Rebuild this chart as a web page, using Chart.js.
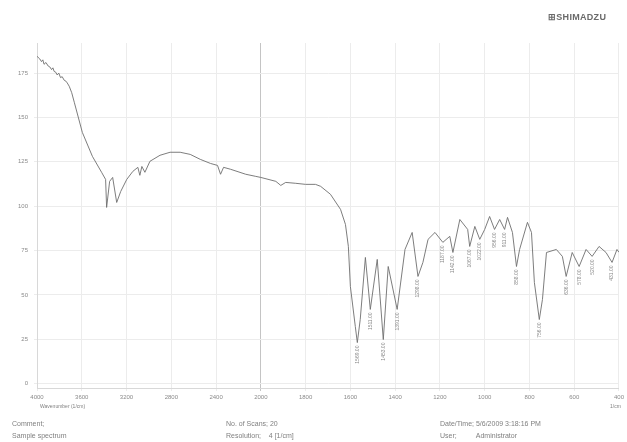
<!DOCTYPE html>
<html>
<head>
<meta charset="utf-8">
<script src="https://cdn.jsdelivr.net/npm/chart.js@4/dist/chart.umd.min.js"></script>
<style>
  body { margin: 0; background: #fff; }
  #wrap { position: relative; width: 627px; height: 442px; font-family: "Liberation Sans", Arial, sans-serif; color: #808080; }
  #wrap canvas { position: absolute; left: 0; top: 0; }
  .note { position: absolute; font-size: 7px; white-space: pre; }
  #logo { position: absolute; left: 548px; top: 12px; font-size: 9px; font-weight: bold; color: #6a6a6a; letter-spacing: 0.3px; }
</style>
</head>
<body>
<div id="wrap">
  <canvas id="chart-area" width="627" height="442"></canvas>
  <div id="logo">&#8862;SHIMADZU</div>
  <div class="note" style="left:40px; top:403px; font-size:5px;">Wavenumber (1/cm)</div>
  <div class="note" style="left:610px; top:403px; font-size:5px;">1/cm</div>
  <div class="note" style="left:12px; top:420px;">Comment;</div>
  <div class="note" style="left:12px; top:432px;">Sample spectrum</div>
  <div class="note" style="left:226px; top:420px;">No. of Scans; 20</div>
  <div class="note" style="left:226px; top:432px;">Resolution;    4 [1/cm]</div>
  <div class="note" style="left:440px; top:420px;">Date/Time; 5/6/2009 3:18:16 PM</div>
  <div class="note" style="left:440px; top:432px;">User;          Administrator</div>
</div>
<script>
'use strict';

// spectrum (1/cm, %T)
var wavenumbers = [
    4000, 3975, 3960, 3948, 3937, 3920, 3900, 3885, 3870, 3858,
    3847, 3832, 3820, 3805, 3790, 3775, 3757, 3742, 3730, 3712,
    3690, 3667, 3595, 3505, 3423, 3387, 3378, 3351, 3324, 3288,
    3252, 3198, 3144, 3099, 3081, 3063, 3036, 2991, 2901, 2811,
    2721, 2631, 2541, 2450, 2387, 2360, 2333, 2270, 2135, 2045,
    2000, 1933, 1911, 1889, 1844, 1800, 1756, 1733, 1689, 1644,
    1622, 1609, 1600, 1578, 1569, 1556, 1533, 1511, 1480, 1453,
    1431, 1391, 1356, 1324, 1298, 1276, 1253, 1222, 1187, 1156,
    1142, 1111, 1076, 1067, 1044, 1022, 1000, 978, 956, 933,
    911, 898, 876, 858, 844, 809, 791, 778, 756, 742,
    724, 680, 653, 636, 609, 578, 547, 520, 489, 458,
    431, 409, 400
];
var transmittance = [
    184.5, 183, 181.5, 182.5, 180, 181, 179, 178.5, 177, 178,
    176, 175.5, 174, 175, 172.5, 173, 171, 170.5, 169.5, 167.6,
    164, 158.6, 141.6, 128.1, 119.1, 115.1, 99.3, 114, 116.2, 102.1,
    108.3, 115.1, 119.6, 121.9, 117.4, 122.4, 119.1, 125.3, 128.7, 130.4,
    130.4, 129.2, 126.4, 124.1, 123, 118, 121.9, 120.8, 118, 116.8,
    116.2, 114, 111.7, 113.4, 112.9, 112.3, 112.3, 111.2, 106.7, 98.2,
    89.7, 77.3, 54.7, 32.2, 23.1, 36.1, 71.1, 41.8, 70, 24.8,
    66, 41.8, 75.6, 85.2, 60.4, 68.3, 81.3, 85.2, 79.6, 83,
    73.9, 92.5, 86.9, 77.3, 88.6, 81.3, 86.9, 94.2, 86.9, 92.5,
    86.9, 93.7, 85.2, 66, 75.6, 90.9, 85.2, 57, 36.1, 47.4,
    73.9, 75.6, 71.7, 60.4, 73.9, 66, 75.6, 71.7, 77.3, 73.9,
    68.3, 75.6, 74
];
var xTickLabels = [4000, 3600, 3200, 2800, 2400, 2000, 1800, 1600, 1400, 1200, 1000, 800, 600, 400];
var yTickLabels = [0, 25, 50, 75, 100, 125, 150, 175];

// axis is expanded x2 below 2000 1/cm, like the printout
var warp = function(wn) {
    return wn >= 2000 ? 4000 - wn : 2000 + (2000 - wn) * 2;
};
var unwarp = function(u) {
    return u <= 2000 ? 4000 - u : 2000 - (u - 2000) / 2;
};

var points = wavenumbers.map(function(wn, i) {
    return { x: warp(wn), y: transmittance[i] };
});

var peakLabels = {
    id: 'peakLabels',
    afterDatasetsDraw: function(chart) {
        var ctx = chart.ctx;
        var xs = chart.scales.x, ys = chart.scales.y;
        ctx.save();
        ctx.fillStyle = '#8a8a8a';
        ctx.font = '5px "Liberation Sans", Arial, sans-serif';
        ctx.textBaseline = 'middle';
        ctx.textAlign = 'right';
        for (var i = 1; i < transmittance.length - 1; i++) {
            if (wavenumbers[i] > 1700) continue;
            if (transmittance[i] < transmittance[i - 1] && transmittance[i] < transmittance[i + 1]) {
                var px = xs.getPixelForValue(warp(wavenumbers[i]));
                var py = ys.getPixelForValue(transmittance[i]);
                ctx.save();
                ctx.translate(px, py + 3);
                ctx.rotate(-Math.PI / 2);
                ctx.fillText(wavenumbers[i].toFixed(2), 0, 0);
                ctx.restore();
            }
        }
        ctx.restore();
    }
};

var config = {
    type: 'line',
    data: {
        datasets: [{
            data: points,
            borderColor: '#6e6e6e',
            borderWidth: 0.9,
            pointRadius: 0,
            tension: 0,
            fill: false
        }]
    },
    options: {
        responsive: false,
        animation: false,
        layout: { padding: { top: 43, right: 7, bottom: 34, left: 0 } },
        plugins: {
            legend: { display: false },
            tooltip: { enabled: false }
        },
        scales: {
            x: {
                type: 'linear',
                min: 0,
                max: 5200,
                afterBuildTicks: function(scale) {
                    scale.ticks = xTickLabels.map(function(wn) { return { value: warp(wn) }; });
                },
                afterFit: function(scale) { scale.height = 20; },
                ticks: {
                    autoSkip: false,
                    maxRotation: 0,
                    color: '#8a8a8a',
                    font: { size: 6, family: '"Liberation Sans", Arial, sans-serif' },
                    callback: function(v) { return String(Math.round(unwarp(v))); }
                },
                grid: {
                    color: function(c) { return c.tick && c.tick.value === 2000 ? '#c4c4c4' : '#ececec'; },
                    tickLength: 3
                },
                border: { color: '#d8d8d8' }
            },
            y: {
                min: -2.5,
                max: 192,
                afterBuildTicks: function(scale) {
                    scale.ticks = yTickLabels.map(function(v) { return { value: v }; });
                },
                afterFit: function(scale) { scale.width = 37; },
                ticks: {
                    color: '#8a8a8a',
                    padding: 6,
                    font: { size: 6, family: '"Liberation Sans", Arial, sans-serif' }
                },
                grid: { color: '#ececec', tickLength: 3 },
                border: { color: '#d8d8d8' }
            }
        }
    },
    plugins: [peakLabels]
};

var ctx = document.getElementById('chart-area').getContext('2d');
window.irChart = new Chart(ctx, config);
</script>
</body>
</html>
